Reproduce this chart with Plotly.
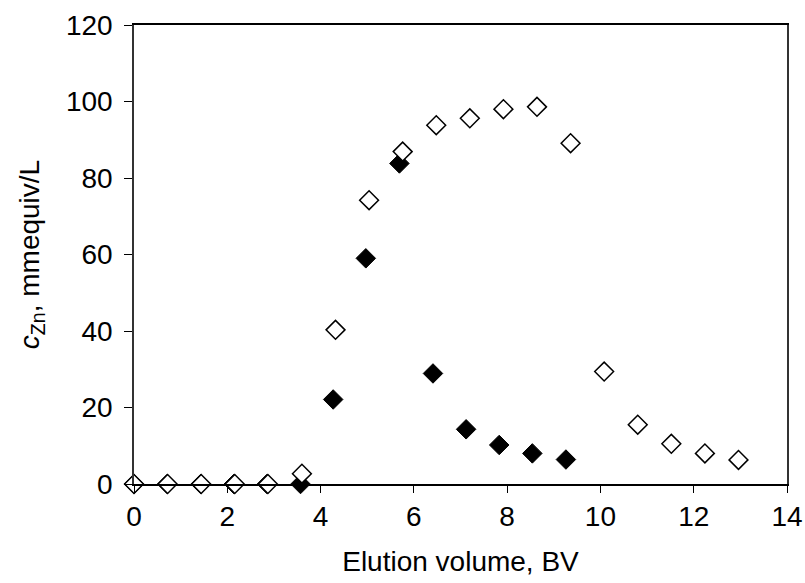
import plotly.graph_objects as go

# Open diamonds
open_x = [0.0, 0.72, 1.44, 2.16, 2.87, 3.60, 4.32, 5.04, 5.76, 6.48, 7.20, 7.92, 8.64, 9.36, 10.08, 10.80, 11.52, 12.24, 12.96]
open_y = [0.0, 0.0, 0.0, 0.0, 0.0, 2.7, 40.3, 74.2, 86.9, 93.8, 95.6, 98.0, 98.6, 89.1, 29.4, 15.5, 10.5, 8.0, 6.3]

# Filled diamonds
fill_x = [0.0, 0.71, 1.43, 2.14, 2.85, 3.57, 4.27, 4.97, 5.69, 6.41, 7.12, 7.83, 8.54, 9.26]
fill_y = [0.0, 0.0, 0.0, 0.0, 0.0, 0.0, 22.1, 59.0, 83.8, 28.9, 14.3, 10.2, 8.0, 6.4]

x_ticks = [0, 2, 4, 6, 8, 10, 12, 14]
y_ticks = [0, 20, 40, 60, 80, 100, 120]

FONT = "Liberation Sans, Arial, sans-serif"
FS = 28

fig = go.Figure()
fig.add_trace(go.Scatter(
    x=fill_x, y=fill_y, mode="markers",
    marker=dict(symbol="diamond", size=15, color="black",
                line=dict(color="black", width=1)),
    cliponaxis=False, showlegend=False))
fig.add_trace(go.Scatter(
    x=open_x, y=open_y, mode="markers",
    marker=dict(symbol="diamond", size=14.5, color="white",
                line=dict(color="black", width=1.5)),
    cliponaxis=False, showlegend=False))

fig.update_layout(
    width=805, height=583,
    margin=dict(l=134, r=18, t=25, b=99),
    paper_bgcolor="white", plot_bgcolor="white",
    font=dict(family=FONT, size=FS, color="black"),
    showlegend=False,
    xaxis=dict(
        range=[0, 14], tickvals=x_ticks, ticktext=[str(v) for v in x_ticks],
        showgrid=False, zeroline=False, automargin=False,
        showline=True, linecolor="black", linewidth=1.5, mirror=True,
        ticks="outside", ticklen=7, tickcolor="black", tickwidth=1,
        tickfont=dict(size=FS),
        title=dict(text="Elution volume, BV", font=dict(size=FS), standoff=20),
    ),
    yaxis=dict(
        range=[0, 120], tickvals=y_ticks, ticktext=[str(v) for v in y_ticks],
        showgrid=False, zeroline=False, automargin=False,
        showline=True, linecolor="#333333", linewidth=1.5, mirror=True,
        ticks="outside", ticklen=8, tickcolor="black", tickwidth=1,
        tickfont=dict(size=FS), ticklabelstandoff=6,
        title=dict(text="<i>c</i><sub>Zn</sub>, mmequiv/L", font=dict(size=FS), standoff=18),
    ),
)

fig.write_html("out.html", config={"displayModeBar": False},
               post_script="document.body.style.margin='0';")
